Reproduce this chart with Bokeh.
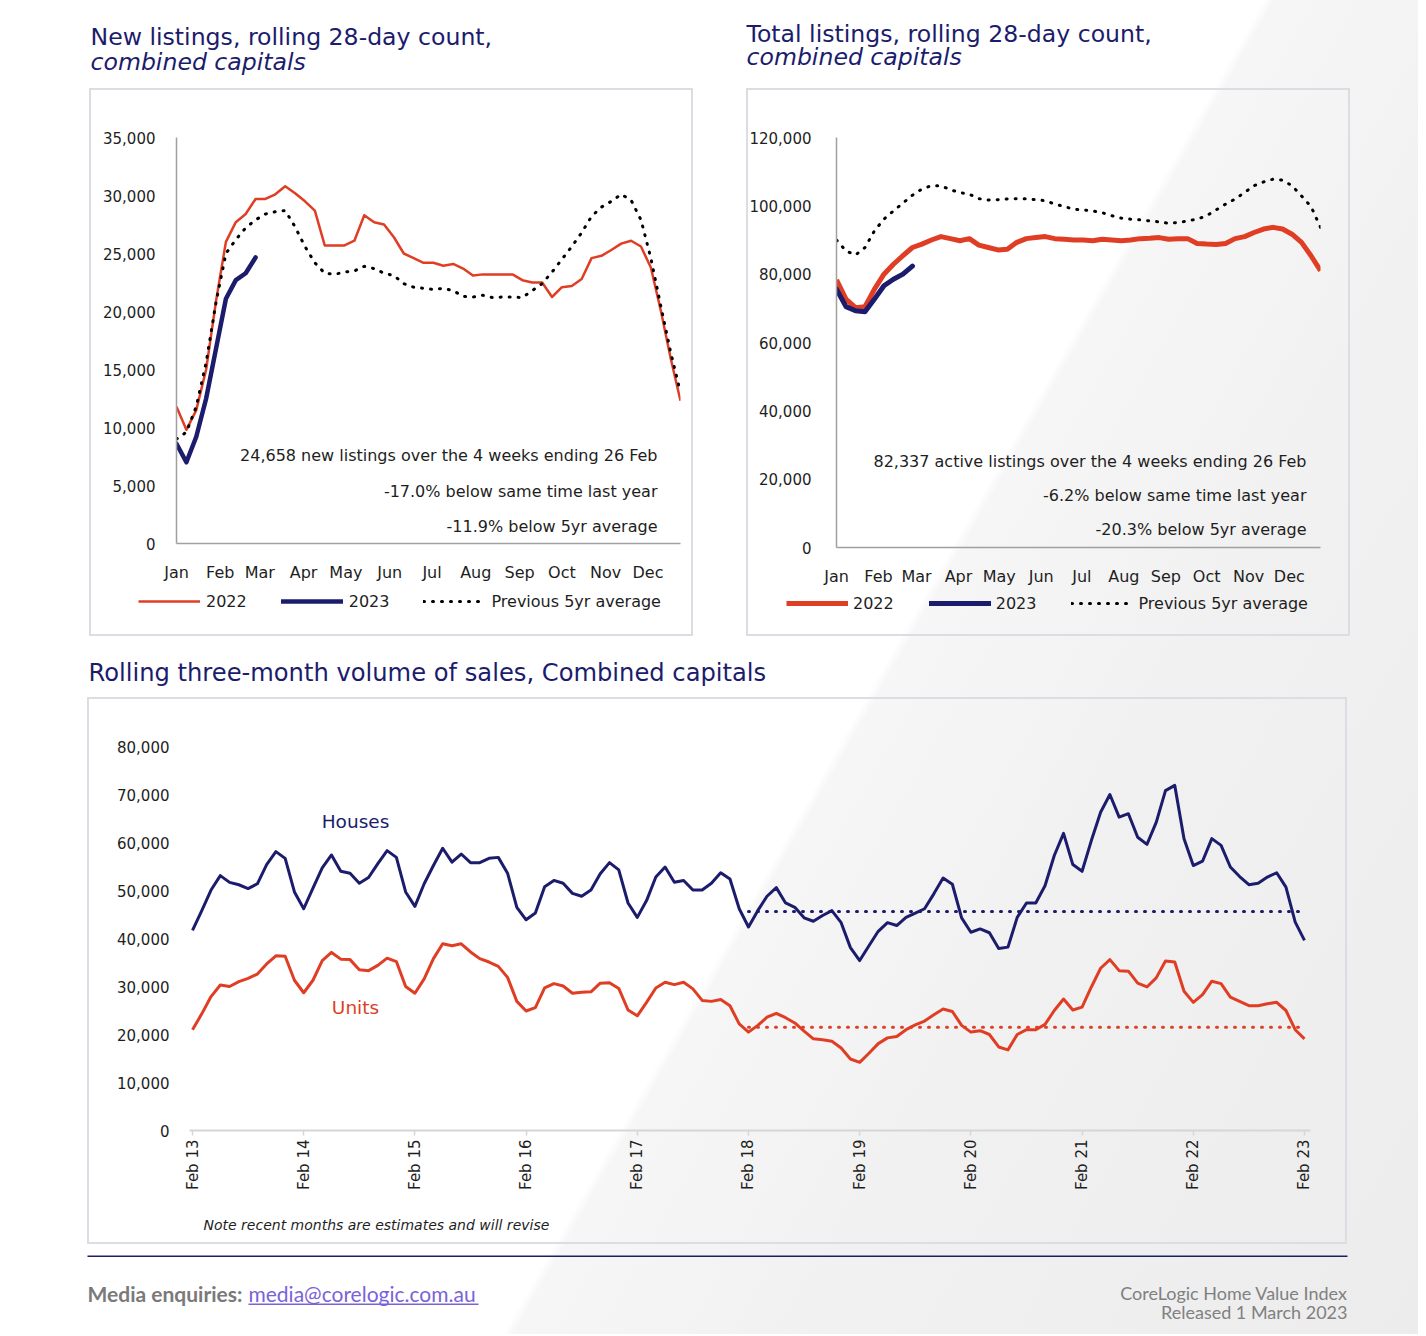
import math
from bokeh.plotting import figure
from bokeh.models import (Range1d, FixedTicker, NumeralTickFormatter, Legend,
                          LegendItem, Label, BoxAnnotation, Spacer)
from bokeh.layouts import column, row
from bokeh.embed import file_html
from bokeh.resources import INLINE

# ---------------------------------------------------------------- data
month_labels = ["Jan", "Feb", "Mar", "Apr", "May", "Jun",
                "Jul", "Aug", "Sep", "Oct", "Nov", "Dec"]
month_start_day = [0, 31, 59, 90, 120, 151, 181, 212, 243, 273, 304, 334]
week_day = [7 * i for i in range(52)]

new_2022 = [11800, 9800, 11500, 15000, 20900, 26000, 27700, 28400, 29700, 29700,
            30100, 30800, 30200, 29500, 28700, 25700, 25700, 25700, 26100, 28300,
            27700, 27500, 26400, 25000, 24600, 24200, 24200, 23950, 24100, 23700,
            23100, 23200, 23200, 23200, 23200, 22700, 22500, 22500, 21250, 22100,
            22200, 22800, 24600, 24800, 25300, 25850, 26100, 25600, 23800, 20100,
            16000, 12300]
new_2023 = [8600, 7000, 9200, 12500, 16800, 21100, 22700, 23300, 24658]
new_5yr = [9000, 9600, 11800, 15600, 20800, 25000, 26200, 27200, 27900, 28400,
           28600, 28700, 27300, 25600, 24200, 23300, 23200, 23400, 23500, 23900,
           23700, 23300, 23100, 22400, 22100, 22000, 21900, 22000, 21800, 21300,
           21250, 21400, 21200, 21250, 21250, 21200, 21800, 22400, 23400, 24500,
           25600, 26800, 28200, 29000, 29500, 30100, 29600, 27900, 24600, 20500,
           16500, 13000]

total_2022 = [78300, 72700, 70200, 70500, 75600, 80000, 82900, 85400, 87800, 88800,
              90000, 91000, 90400, 89800, 90400, 88500, 87800, 87100, 87300, 89300,
              90400, 90700, 91000, 90400, 90200, 90000, 90000, 89800, 90200, 90000,
              89800, 90000, 90400, 90500, 90700, 90200, 90400, 90400, 89000, 88800,
              88700, 89000, 90400, 91000, 92200, 93200, 93700, 93200, 91700, 89300,
              85400, 81000]
total_2023 = [75600, 70500, 69300, 69000, 72700, 76600, 78500, 80000, 82337]
total_5yr = [90000, 86800, 85600, 87800, 92700, 96100, 98500, 100800, 103100, 104900,
             105900, 105900, 104700, 103900, 103400, 102100, 101700, 101800, 102000, 102100,
             102100, 101800, 101500, 100500, 99800, 99000, 98800, 98500, 98000, 97100,
             96400, 96100, 95900, 95600, 95300, 94900, 95100, 95600, 96100, 97100,
             98800, 100500, 102000, 103900, 105900, 107000, 107800, 107500, 105900, 102900,
             99800, 93700]

year_labels = ["Feb 13", "Feb 14", "Feb 15", "Feb 16", "Feb 17", "Feb 18",
               "Feb 19", "Feb 20", "Feb 21", "Feb 22", "Feb 23"]
month_index = list(range(121))
houses = [41700, 45800, 50100, 53100, 51700, 51200, 50400, 51400, 55400, 58100,
          56700, 49700, 46200, 50500, 54700, 57400, 54000, 53600, 51500, 52700,
          55600, 58300, 56900, 49700, 46700, 51400, 55200, 58800, 55900, 57600,
          55800, 55800, 56700, 56900, 53600, 46500, 43900, 45300, 50800, 52100,
          51500, 49400, 48800, 50100, 53500, 55800, 54300, 47400, 44400, 47900,
          52800, 54900, 51700, 52100, 50100, 50100, 51500, 53700, 52400, 46200,
          42400, 45800, 48800, 50600, 47400, 46500, 44300, 43600, 44800, 45800,
          43300, 38100, 35400, 38500, 41500, 43300, 42700, 44400, 45300, 46200,
          49300, 52600, 51300, 44300, 41300, 42000, 41200, 37900, 38200, 44400,
          47400, 47400, 51000, 57300, 61900, 55400, 54000, 60400, 66300, 70000,
          65300, 66000, 61100, 59600, 64200, 70800, 71900, 60800, 55200, 56100,
          60800, 59400, 54900, 52900, 51200, 51500, 52800, 53700, 50700, 43400,
          39600]
units = [21000, 24300, 27900, 30300, 30000, 31000, 31700, 32600, 34700, 36400,
         36300, 31300, 28700, 31300, 35400, 37100, 35700, 35600, 33500, 33300,
         34400, 35900, 35200, 30000, 28600, 31600, 35800, 38900, 38500, 38900,
         37200, 35800, 35100, 34200, 31900, 26900, 24900, 25600, 29700, 30600,
         30100, 28600, 28800, 28900, 30700, 30800, 29600, 25100, 23900, 26700,
         29700, 30900, 30400, 30900, 29500, 27100, 26900, 27300, 26000, 22200,
         20500, 21900, 23600, 24400, 23500, 22400, 20700, 19100, 18900, 18600,
         17200, 14900, 14200, 16100, 18100, 19300, 19600, 21000, 22000, 22800,
         24100, 25300, 24800, 21900, 20500, 20800, 20000, 17400, 16800, 20000,
         21000, 21000, 22100, 25000, 27400, 25100, 25700, 29900, 33800, 35600,
         33300, 33200, 30700, 29900, 31800, 35300, 35100, 29000, 26700, 28300,
         31100, 30600, 27800, 26900, 26000, 26000, 26400, 26700, 25000, 21000,
         19100]
avg_start = 60          # Feb 18: start of the 5-year average
houses_5yr_avg = 45600
units_5yr_avg = 21500

# ---------------------------------------------------------------- style
FONT = "DejaVu Sans"
FOOT = "Lato"
NAVY = "#1c1c6c"
RED = "#e03e24"
TXT = "#1e1e1e"
BORDER = "#dcdce3"
TOP_CSS = {"box-shadow": "inset 2px 2px 0 0 %s, inset -2px 0 0 0 %s" % (BORDER, BORDER)}
BOT_CSS = {"box-shadow": "inset 2px -2px 0 0 %s, inset -2px 0 0 0 %s" % (BORDER, BORDER)}
NAN = float("nan")


def chart_fig(w, h, xr, yr, ml, mr, mt, mb, css):
    p = figure(width=w, height=h, x_range=xr, y_range=yr,
               min_border_left=ml, min_border_right=mr,
               min_border_top=mt, min_border_bottom=mb,
               toolbar_location=None, output_backend="svg", styles=css)
    p.background_fill_color = None
    p.border_fill_color = None
    p.outline_line_color = None
    p.xgrid.visible = False
    p.ygrid.visible = False
    return p


def text_fig(w, h, css=None):
    kw = {"styles": css} if css else {}
    p = figure(width=w, height=h, x_range=Range1d(0, w), y_range=Range1d(0, h),
               x_axis_type=None, y_axis_type=None, min_border=0,
               toolbar_location=None, output_backend="svg", **kw)
    p.background_fill_color = None
    p.border_fill_color = None
    p.outline_line_color = None
    p.xgrid.visible = False
    p.ygrid.visible = False
    return p


def style_axis(ax, size, standoff, line_color="#a0a0a0", line_width=1.5):
    ax.major_label_text_font = FONT
    ax.major_label_text_font_size = size
    ax.major_label_text_color = TXT
    ax.axis_line_color = line_color
    ax.axis_line_width = line_width
    ax.major_tick_line_color = None
    ax.minor_tick_line_color = None
    ax.major_label_standoff = standoff


def screen_label(p, x, y, text, size, color=TXT, align="left", baseline="middle",
                 font=FONT, style="normal"):
    p.add_layout(Label(x=x, y=y, x_units="screen", y_units="screen", text=text,
                       text_font=font, text_font_size=size, text_color=color,
                       text_align=align, text_baseline=baseline,
                       text_font_style=style))


def screen_bar(p, l, r, t, b, color):
    p.add_layout(BoxAnnotation(left=l, right=r, top=t, bottom=b,
                               left_units="screen", right_units="screen",
                               top_units="screen", bottom_units="screen",
                               fill_color=color, fill_alpha=1.0, line_alpha=0.0))


def month_axis(p):
    ax = p.xaxis[0]
    ax.ticker = FixedTicker(ticks=month_start_day)
    ax.major_label_overrides = {d: m for d, m in zip(month_start_day, month_labels)}
    style_axis(ax, "16px", 13)


def legend_fig(styles_2022, styles_2023, loc, spacing, standoff):
    """Legend row below a chart: sample renderers hold no visible data."""
    lf = text_fig(604, 48, BOT_CSS)
    r22 = lf.line(x=[NAN, NAN], y=[NAN, NAN], **styles_2022)
    r23 = lf.line(x=[NAN, NAN], y=[NAN, NAN], **styles_2023)
    r5 = lf.line(x=[NAN, NAN], y=[NAN, NAN], line_color="black", line_width=3,
                 line_dash="1 8", line_cap="round")
    lg = Legend(items=[LegendItem(label="2022", renderers=[r22]),
                       LegendItem(label="2023", renderers=[r23]),
                       LegendItem(label="Previous 5yr average", renderers=[r5])],
                orientation="horizontal", location=loc, glyph_width=62,
                glyph_height=20, label_height=20, label_standoff=standoff,
                spacing=spacing, padding=0, margin=0, border_line_color=None,
                background_fill_alpha=0, label_text_font=FONT,
                label_text_font_size="16px", label_text_color=TXT)
    lf.add_layout(lg)
    return lf


# ---------------------------------------------------------------- header titles
header = text_fig(1418, 88)
screen_label(header, 90, 52, "New listings, rolling 28-day count,", "23.6px", NAVY)
screen_label(header, 90, 27, "combined capitals", "23.6px", NAVY, style="italic")
screen_label(header, 746, 55, "Total listings, rolling 28-day count,", "23.6px", NAVY)
screen_label(header, 746, 32, "combined capitals", "23.6px", NAVY, style="italic")

# ---------------------------------------------------------------- top-left
p1 = chart_fig(604, 500, Range1d(0, 357), Range1d(0, 35000), 87, 13, 49, 45, TOP_CSS)
ya = p1.yaxis[0]
ya.ticker = FixedTicker(ticks=list(range(0, 35001, 5000)))
ya.formatter = NumeralTickFormatter(format="0,0")
style_axis(ya, "15px", 15)
month_axis(p1)

s22a = dict(line_color=RED, line_width=2.5, line_join="round")
s23a = dict(line_color=NAVY, line_width=4.5, line_join="round", line_cap="round")
p1.line(week_day, new_2022, **s22a)
p1.line(week_day, new_5yr, line_color="black", line_width=3,
        line_dash="1 8", line_cap="round")
p1.line(week_day[:len(new_2023)], new_2023, **s23a)

screen_label(p1, 481, 88, "24,658 new listings over the 4 weeks ending 26 Feb", "16px",
             align="right")
screen_label(p1, 481, 52, "-17.0% below same time last year", "16px", align="right")
screen_label(p1, 481, 17, "-11.9% below 5yr average", "16px", align="right")
leg1 = legend_fig(s22a, s23a, (49, 25), 34, 6)

# ---------------------------------------------------------------- top-right
p2 = chart_fig(604, 500, Range1d(0, 357), Range1d(0, 120000), 83, 30, 49, 40, TOP_CSS)
yb = p2.yaxis[0]
yb.ticker = FixedTicker(ticks=list(range(0, 120001, 20000)))
yb.formatter = NumeralTickFormatter(format="0,0")
style_axis(yb, "15px", 19)
month_axis(p2)

s22b = dict(line_color=RED, line_width=5, line_join="round")
s23b = dict(line_color=NAVY, line_width=5, line_join="round", line_cap="round")
p2.line(week_day, total_2022, **s22b)
p2.line(week_day, total_5yr, line_color="black", line_width=3,
        line_dash="1 8", line_cap="round")
p2.line(week_day[:len(total_2023)], total_2023, **s23b)

screen_label(p2, 470, 86, "82,337 active listings over the 4 weeks ending 26 Feb", "16px",
             align="right")
screen_label(p2, 470, 52, "-6.2% below same time last year", "16px", align="right")
screen_label(p2, 470, 18, "-20.3% below 5yr average", "16px", align="right")
leg2 = legend_fig(s22b, s23b, (40, 23), 35, 5)

# ---------------------------------------------------------------- bottom title
mid = text_fig(1418, 61)
screen_label(mid, 88, 25, "Rolling three-month volume of sales, Combined capitals",
             "24.2px", NAVY)

# ---------------------------------------------------------------- bottom chart
p3 = chart_fig(1260, 503, Range1d(-0.324, 120.65), Range1d(0, 80000), 102, 37, 49, 70,
               TOP_CSS)
yc = p3.yaxis[0]
yc.ticker = FixedTicker(ticks=list(range(0, 80001, 10000)))
yc.formatter = NumeralTickFormatter(format="0,0")
style_axis(yc, "15px", 14, line_color=None)
xc = p3.xaxis[0]
year_ticks = list(range(0, 121, 12))
xc.ticker = FixedTicker(ticks=year_ticks)
xc.major_label_overrides = {t: l for t, l in zip(year_ticks, year_labels)}
style_axis(xc, "15px", 4, line_color="#d6d6d6", line_width=2)
xc.major_label_orientation = math.pi / 2
xc.major_tick_line_color = "#d6d6d6"
xc.major_tick_line_width = 1.5
xc.major_tick_out = 5
xc.major_tick_in = 0

p3.line(month_index, houses, line_color=NAVY, line_width=3, line_join="round")
p3.line(month_index, units, line_color=RED, line_width=3, line_join="round")
p3.line(month_index[avg_start:], [houses_5yr_avg] * (121 - avg_start),
        line_color=NAVY, line_width=3, line_dash="1 8", line_cap="round")
p3.line(month_index[avg_start:], [units_5yr_avg] * (121 - avg_start),
        line_color=RED, line_width=3, line_dash="1 8", line_cap="round")

screen_label(p3, 166, 309, "Houses", "18.5px", NAVY, align="center")
screen_label(p3, 166, 123, "Units", "18.5px", RED, align="center")

note = text_fig(1260, 44, BOT_CSS)
screen_label(note, 116, 20, "Note recent months are estimates and will revise", "14px",
             style="italic")

# ---------------------------------------------------------------- footer
foot = text_fig(1418, 90)
screen_bar(foot, 87, 1347, 79, 77.5, NAVY)
screen_label(foot, 87, 41, "Media enquiries:", "21px", "#7a7a7a",
             font=FOOT, style="bold")
screen_label(foot, 248, 41, "media@corelogic.com.au", "21px", "#7a63d8", font=FOOT)
screen_bar(foot, 248, 478, 31, 29.5, "#7a63d8")
screen_label(foot, 1347, 42, "CoreLogic Home Value Index", "18px", "#808080",
             align="right", font=FOOT)
screen_label(foot, 1347, 23, "Released 1 March 2023", "18px", "#808080",
             align="right", font=FOOT)

layout = column(
    header,
    row(Spacer(width=89, height=548), column(p1, row(leg1, spacing=0), spacing=0),
        Spacer(width=53, height=548), column(p2, row(leg2, spacing=0), spacing=0),
        spacing=0),
    mid,
    row(Spacer(width=87, height=547), column(p3, row(note, spacing=0), spacing=0),
        spacing=0),
    foot,
    spacing=0,
    styles={"background": "linear-gradient(119.7deg, #ffffff 0%, #ffffff 58%, "
                          "#f6f6f6 58.5%, #f1f1f1 72%, #ececec 100%)"},
)

open("out.html", "w").write(file_html(layout, INLINE))
